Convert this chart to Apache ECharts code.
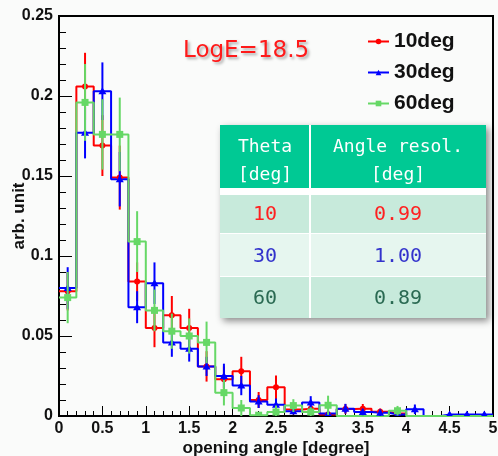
<!DOCTYPE html>
<html>
<head>
<meta charset="utf-8">
<script src="https://cdn.jsdelivr.net/npm/echarts@6/dist/echarts.min.js"></script>
<style>
  html, body { margin: 0; padding: 0; background: #fafbfa; }
  #chart { width: 498px; height: 456px; }
</style>
</head>
<body>
<div id="chart"></div>
<script>
// Opening-angle distributions, 0.2 degree bins
const binCenters = [0.1, 0.3, 0.5, 0.7, 0.9, 1.1, 1.3, 1.5, 1.7, 1.9, 2.1, 2.3, 2.5,
                    2.7, 2.9, 3.1, 3.3, 3.5, 3.7, 3.9, 4.1, 4.3, 4.5, 4.7, 4.9];
const angleMin = 0;
const angleMax = 5;

const seriesNames = ['10deg', '30deg', '60deg'];

const values10 = [0.078, 0.206, 0.169, 0.149, 0.084, 0.055, 0.063, 0.055, 0.031, 0.023, 0.028, 0.010, 0.018,
                  0.004, 0.0045, 0.001, 0.0044, 0.0045, 0.0027, 0.0015, 0, 0, 0, 0, 0];
const errors10 = [0.012, 0.021, 0.019, 0.020, 0.012, 0.012, 0.012, 0.012, 0.0095, 0.008, 0.009, 0.005, 0.0073,
                  0.003, 0.003, 0.002, 0.003, 0.003, 0.002, 0.002, 0, 0, 0, 0, 0];

const values30 = [0.080, 0.177, 0.203, 0.148, 0.068, 0.083, 0.046, 0.042, 0.031, 0.025, 0.019, 0.009, 0.007,
                  0.003, 0.0084, 0.0015, 0.0046, 0.0025, 0.002, 0.001, 0.0042, 0, 0.001, 0.001, 0.001];
const errors30 = [0.013, 0.016, 0.018, 0.017, 0.010, 0.013, 0.009, 0.008, 0.006, 0.0077, 0.006, 0.004, 0.004,
                  0.002, 0.004, 0.0015, 0.003, 0.002, 0.002, 0.001, 0.003, 0, 0.001, 0.001, 0.001];

const values60 = [0.074, 0.196, 0.176, 0.176, 0.109, 0.066, 0.053, 0.050, 0.046, 0.0146, 0.005, 0.0005, 0.0025,
                  0.0065, 0.0025, 0.0067, 0, 0, 0, 0.0033, 0, 0, 0, 0, 0];
const errors60 = [0.016, 0.024, 0.022, 0.023, 0.019, 0.013, 0.011, 0.011, 0.013, 0.008, 0.005, 0.002, 0.004,
                  0.004, 0.003, 0.006, 0, 0, 0, 0.003, 0, 0, 0, 0, 0];

const yTicks = [0, 0.05, 0.1, 0.15, 0.2, 0.25];
const xTicks = [0, 0.5, 1, 1.5, 2, 2.5, 3, 3.5, 4, 4.5, 5];

// Resolution table
const tableHeader = [['Theta', '[deg]'], ['Angle resol.', '[deg]']];
const thetaValues = ['10', '30', '60'];
const resolValues = ['0.99', '1.00', '0.89'];

const energyLabel = 'LogE=18.5';

const colors = ['#ff0000', '#0000ff', '#66d866'];
const tableTextColors = ['#ff2020', '#3333cc', '#2a6a52'];
const markers = ['circle', 'triangle', 'rect'];

const boldFont = 'Liberation Sans';

// Histogram outline: a step line through the bin centres, closed at both range edges
function stepSeries(i, values) {
  const pts = [[angleMin, values[0]]];
  binCenters.forEach((c, k) => pts.push([c, values[k]]));
  pts.push([angleMax, values[values.length - 1]]);
  return {
    type: 'line',
    name: seriesNames[i],
    step: 'middle',
    data: pts,
    symbol: markers[i],
    showSymbol: false,
    color: colors[i],
    lineStyle: { color: colors[i], width: 2 },
    itemStyle: { color: colors[i] },
    z: 2 + i,
    silent: true
  };
}

function markerShape(kind, p, color) {
  if (kind === 'circle') {
    return { type: 'circle', shape: { cx: p[0], cy: p[1], r: 3 }, style: { fill: color } };
  }
  if (kind === 'triangle') {
    return { type: 'polygon', shape: { points: [[p[0], p[1] - 4], [p[0] - 4, p[1] + 3], [p[0] + 4, p[1] + 3]] },
             style: { fill: color } };
  }
  return { type: 'rect', shape: { x: p[0] - 3.5, y: p[1] - 3.5, width: 7, height: 7 }, style: { fill: color } };
}

// Vertical error bars with a marker at the bin content
function errorSeries(i, values, errors) {
  const color = colors[i];
  return {
    type: 'custom',
    name: seriesNames[i],
    data: binCenters.map((c, k) => [c, values[k], errors[k]]).filter(d => d[1] > 0),
    encode: { x: 0, y: 1 },
    clip: true,
    z: 5 + i,
    silent: true,
    renderItem: function (params, api) {
      const x = api.value(0), y = api.value(1), e = api.value(2);
      const p = api.coord([x, y]);
      const hi = api.coord([x, y + e]);
      const lo = api.coord([x, Math.max(y - e, 0)]);
      return {
        type: 'group',
        children: [
          { type: 'line', shape: { x1: p[0], y1: hi[1], x2: p[0], y2: lo[1] },
            style: { stroke: color, lineWidth: 2 } },
          markerShape(markers[i], p, color)
        ]
      };
    }
  };
}

// Table layout
const tbl = { left: 220, top: 125, right: 486, colSplit: 310, headBottom: 188, bodyTop: 195, rowLines: [233, 276], bottom: 318 };
const tableGraphics = [];
tableGraphics.push({
  type: 'rect', shape: { x: tbl.left, y: tbl.top, width: tbl.right - tbl.left, height: tbl.bottom - tbl.top },
  style: { fill: '#ffffff', shadowBlur: 7, shadowOffsetX: 3, shadowOffsetY: 3, shadowColor: 'rgba(0,0,0,0.45)' }, z: 10
});
tableGraphics.push({
  type: 'rect', shape: { x: tbl.left, y: tbl.top, width: tbl.colSplit - tbl.left - 1, height: tbl.headBottom - tbl.top },
  style: { fill: '#00c994' }, z: 11
});
tableGraphics.push({
  type: 'rect', shape: { x: tbl.colSplit + 1, y: tbl.top, width: tbl.right - tbl.colSplit - 1, height: tbl.headBottom - tbl.top },
  style: { fill: '#00c994' }, z: 11
});
const rowEdges = [tbl.bodyTop, tbl.rowLines[0], tbl.rowLines[1], tbl.bottom];
const rowFills = ['#c7eadb', '#e6f6ef', '#c7eadb'];
for (let r = 0; r < 3; r++) {
  const y0 = rowEdges[r] + (r === 0 ? 0 : 1);
  const h = rowEdges[r + 1] - y0;
  tableGraphics.push({ type: 'rect', shape: { x: tbl.left, y: y0, width: tbl.colSplit - tbl.left - 1, height: h },
                       style: { fill: rowFills[r] }, z: 11 });
  tableGraphics.push({ type: 'rect', shape: { x: tbl.colSplit + 1, y: y0, width: tbl.right - tbl.colSplit - 1, height: h },
                       style: { fill: rowFills[r] }, z: 11 });
}
const colCenters = [265, 398];
tableHeader.forEach((lines, c) => {
  lines.forEach((t, l) => {
    tableGraphics.push({
      type: 'text', x: colCenters[c], y: [147, 175][l], z: 12,
      style: { text: t, fill: '#ffffff', font: '18px "DejaVu Sans Mono"', align: 'center', verticalAlign: 'middle' }
    });
  });
});
const rowCenters = [215, 257, 299];
thetaValues.forEach((t, r) => {
  tableGraphics.push({
    type: 'text', x: colCenters[0], y: rowCenters[r], z: 12,
    style: { text: t, fill: tableTextColors[r], font: '20px "DejaVu Sans Mono"', align: 'center', verticalAlign: 'middle' }
  });
  tableGraphics.push({
    type: 'text', x: colCenters[1], y: rowCenters[r], z: 12,
    style: { text: resolValues[r], fill: tableTextColors[r], font: '20px "DejaVu Sans Mono"', align: 'center', verticalAlign: 'middle' }
  });
});

const chart = echarts.init(document.getElementById('chart'), null, { renderer: 'canvas' });

const option = {
  animation: false,
  backgroundColor: '#fafbfa',
  grid: {
    left: 59, top: 16, right: 5, bottom: 40,
    outerBoundsMode: 'none', containLabel: false,
    show: true, borderColor: '#000', borderWidth: 2, backgroundColor: 'transparent'
  },
  xAxis: {
    type: 'value', min: xTicks[0], max: xTicks[xTicks.length - 1], interval: xTicks[1] - xTicks[0],
    name: 'opening angle [degree]', nameLocation: 'middle', nameGap: 24, nameMoveOverlap: false,
    nameTextStyle: { fontFamily: boldFont, fontWeight: 'bold', fontSize: 17, color: '#111' },
    axisLine: { show: true, onZero: false, lineStyle: { color: '#000', width: 2 } },
    axisTick: { show: true, inside: true, length: 10, lineStyle: { color: '#000', width: 1 } },
    minorTick: { show: true, splitNumber: 5, length: 5, lineStyle: { color: '#000', width: 1 } },
    axisLabel: { fontFamily: boldFont, fontWeight: 'bold', fontSize: 16, color: '#111', margin: 5 },
    splitLine: { show: false }
  },
  yAxis: {
    type: 'value', min: yTicks[0], max: yTicks[yTicks.length - 1], interval: yTicks[1] - yTicks[0],
    name: 'arb. unit', nameLocation: 'middle', nameGap: 31, nameMoveOverlap: false,
    nameTextStyle: { fontFamily: boldFont, fontWeight: 'bold', fontSize: 17, color: '#111' },
    axisLine: { show: true, onZero: false, lineStyle: { color: '#000', width: 2 } },
    axisTick: { show: true, inside: true, length: 13, lineStyle: { color: '#000', width: 1 } },
    minorTick: { show: true, splitNumber: 5, length: 7, lineStyle: { color: '#000', width: 1 } },
    axisLabel: { fontFamily: boldFont, fontWeight: 'bold', fontSize: 16, color: '#111', margin: 6 },
    splitLine: { show: false }
  },
  legend: {
    data: seriesNames,
    orient: 'vertical',
    left: 367, top: 31, padding: 0,
    itemWidth: 21, itemHeight: 7, itemGap: 10,
    textStyle: { fontFamily: boldFont, fontWeight: 'bold', fontSize: 21, color: '#111' },
    selectedMode: false
  },
  graphic: [
    {
      type: 'text', x: 183, y: 51, z: 12,
      style: {
        text: energyLabel, fill: '#ff1a1a', font: '23px "DejaVu Sans"', verticalAlign: 'middle',
        textShadowColor: 'rgba(0,0,0,0.35)', textShadowBlur: 3, textShadowOffsetX: 2, textShadowOffsetY: 2
      }
    },
    ...tableGraphics
  ],
  series: [
    stepSeries(0, values10),
    stepSeries(1, values30),
    stepSeries(2, values60),
    errorSeries(0, values10, errors10),
    errorSeries(1, values30, errors30),
    errorSeries(2, values60, errors60)
  ]
};

chart.setOption(option);
</script>
</body>
</html>
